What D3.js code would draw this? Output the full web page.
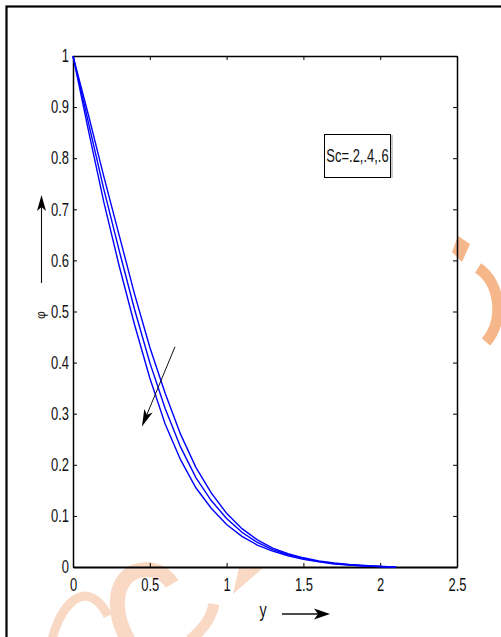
<!DOCTYPE html>
<html>
<head>
<meta charset="utf-8">
<script src="https://cdn.jsdelivr.net/npm/d3@7"></script>
<style>
  html, body { margin: 0; padding: 0; background: #fff; }
  svg { display: block; }
  text { font-family: "Liberation Sans", Arial, sans-serif; fill: #111; }
</style>
</head>
<body>
<svg id="chart" width="501" height="637"></svg>
<script>
// ---- data ----
const yValues = [0, 0.1, 0.2, 0.3, 0.4, 0.5, 0.6, 0.7, 0.8, 0.9, 1.0, 1.1, 1.2, 1.3, 1.4, 1.5, 1.6, 1.7, 1.8, 1.9, 2.0, 2.1];
const phiSc02 = [1, 0.885, 0.765, 0.65, 0.535, 0.43, 0.34, 0.26, 0.195, 0.145, 0.105, 0.075, 0.053, 0.037, 0.026, 0.018, 0.012, 0.008, 0.005, 0.003, 0.001, 0];
const phiSc04 = [1, 0.87, 0.74, 0.62, 0.505, 0.40, 0.31, 0.235, 0.175, 0.13, 0.095, 0.068, 0.048, 0.034, 0.024, 0.017, 0.011, 0.007, 0.004, 0.002, 0.001, 0];
const phiSc06 = [1, 0.855, 0.715, 0.59, 0.475, 0.37, 0.28, 0.21, 0.155, 0.115, 0.083, 0.06, 0.043, 0.031, 0.022, 0.015, 0.010, 0.006, 0.004, 0.002, 0.001, 0];
const xTicks = [0, 0.5, 1, 1.5, 2, 2.5];
const yTicks = [0, 0.1, 0.2, 0.3, 0.4, 0.5, 0.6, 0.7, 0.8, 0.9, 1];
const legendText = "Sc=.2,.4,.6";
const xLabel = "y";
const yLabel = "φ";

const SX = 0.72; // horizontal compression of the original typeface
const svg = d3.select("#chart");

// ---- watermark (background decoration) ----
const wm = svg.append("g").attr("fill", "none").attr("stroke-linecap", "butt");
wm.append("path").attr("d", "M52,640 C58,615 70,598 84,596 C95,596 103,606 108,616")
  .attr("stroke", "#f9d8c4").attr("stroke-width", 9);
wm.append("path").attr("d", "M128,640 C112,612 114,582 134,572 C150,566 165,572 172,584")
  .attr("stroke", "#f9d8c4").attr("stroke-width", 15);
wm.append("path").attr("d", "M190,640 C205,628 212,615 214,604")
  .attr("stroke", "#f9d8c4").attr("stroke-width", 11);
wm.append("path").attr("d", "M233,594 L239,568 L263,568 Z").attr("fill", "#f9d8c4");
wm.append("path").attr("d", "M458,236 L470,244 L462,262 L452,252 Z").attr("fill", "#f5b68a");
wm.append("path").attr("d", "M478,268 C500,282 505,320 486,342")
  .attr("stroke", "#f5b68a").attr("stroke-width", 11);

// ---- outer frame ----
svg.append("rect").attr("x", 6.5).attr("y", 6.5).attr("width", 520).attr("height", 660)
  .attr("fill", "none").attr("stroke", "#000").attr("stroke-width", 2.2);

// ---- scales ----
const x = d3.scaleLinear().domain([0, 2.5]).range([73, 457]);
const y = d3.scaleLinear().domain([0, 1]).range([567, 56]);

// ---- axes ----
function styleAxis(g, width) {
  g.select(".domain").attr("stroke", "#000").attr("stroke-width", width);
  g.selectAll(".tick line").attr("stroke", "#000").attr("stroke-width", 1);
}
const gBottom = svg.append("g").attr("transform", `translate(0,${y(0)})`)
  .call(d3.axisBottom(x).tickValues(xTicks).tickSize(-4).tickSizeOuter(0).tickPadding(11)
    .tickFormat(d3.format("")));
styleAxis(gBottom, 2);
gBottom.selectAll(".tick text").attr("font-size", 18).attr("font-family", "Liberation Sans, Arial, sans-serif")
  .attr("fill", "#111").attr("transform", `scale(${SX},1)`);

const gTop = svg.append("g").attr("transform", `translate(0,${y(1)})`)
  .call(d3.axisTop(x).tickValues(xTicks).tickSize(-4).tickSizeOuter(0).tickFormat(""));
styleAxis(gTop, 1.5);

const gLeft = svg.append("g").attr("transform", `translate(${x(0)},0)`)
  .call(d3.axisLeft(y).tickValues(yTicks).tickSize(-4).tickSizeOuter(0).tickPadding(4)
    .tickFormat(d3.format("")));
styleAxis(gLeft, 1.5);
gLeft.selectAll(".tick text").attr("font-size", 18).attr("font-family", "Liberation Sans, Arial, sans-serif")
  .attr("fill", "#111").attr("x", -4 / SX).attr("transform", `scale(${SX},1)`);

const gRight = svg.append("g").attr("transform", `translate(${x(2.5)},0)`)
  .call(d3.axisRight(y).tickValues(yTicks).tickSize(-4).tickSizeOuter(0).tickFormat(""));
styleAxis(gRight, 1.5);

// ---- curves ----
const series = [phiSc02, phiSc04, phiSc06];
const line = d3.line().x((d, i) => x(yValues[i])).y(d => y(d));
svg.append("g").selectAll("path").data(series).join("path")
  .attr("d", line)
  .attr("fill", "none")
  .attr("stroke", "#0000ff")
  .attr("stroke-width", 1.4);

// ---- arrows ----
function arrow(x1, y1, x2, y2, len, wid, sw) {
  const a = Math.atan2(y2 - y1, x2 - x1);
  const ux = Math.cos(a), uy = Math.sin(a), px = -uy, py = ux;
  const bx = x2 - ux * len, by = y2 - uy * len;
  const nx = x2 - ux * len * 0.75, ny = y2 - uy * len * 0.75;
  svg.append("line").attr("x1", x1).attr("y1", y1).attr("x2", nx).attr("y2", ny)
    .attr("stroke", "#111").attr("stroke-width", sw);
  svg.append("path")
    .attr("d", `M${x2},${y2} L${bx + px * wid / 2},${by + py * wid / 2} L${nx},${ny} L${bx - px * wid / 2},${by - py * wid / 2} Z`)
    .attr("fill", "#000");
}
// trend arrow inside the plot (data coordinates)
arrow(x(0.664), y(0.431), x(0.449), y(0.275), 17, 9, 1);
// axis-direction arrows
arrow(41.5, 283, 41.5, 195, 16, 9, 1.1);
arrow(282, 614, 330, 614, 16, 11, 1.6);

// ---- axis labels ----
svg.append("text").attr("transform", `translate(263,617) scale(${SX},1)`)
  .attr("text-anchor", "middle").attr("font-size", 20).text(xLabel);
svg.append("text").attr("transform", `translate(45,315) rotate(-90)`)
  .attr("text-anchor", "middle").attr("font-family", "DejaVu Sans, sans-serif")
  .attr("font-size", 12).attr("fill", "#111").text(yLabel);

// ---- legend box ----
svg.append("rect").attr("x", 324.5).attr("y", 134.5).attr("width", 66).attr("height", 43)
  .attr("fill", "#fff").attr("stroke", "#000").attr("stroke-width", 1);
svg.append("line").attr("x1", 392).attr("y1", 135).attr("x2", 392).attr("y2", 178)
  .attr("stroke", "#999").attr("stroke-width", 1);
svg.append("text").attr("transform", `translate(357.5,162) scale(${SX},1)`)
  .attr("text-anchor", "middle").attr("font-size", 18).text(legendText);
</script>
</body>
</html>
